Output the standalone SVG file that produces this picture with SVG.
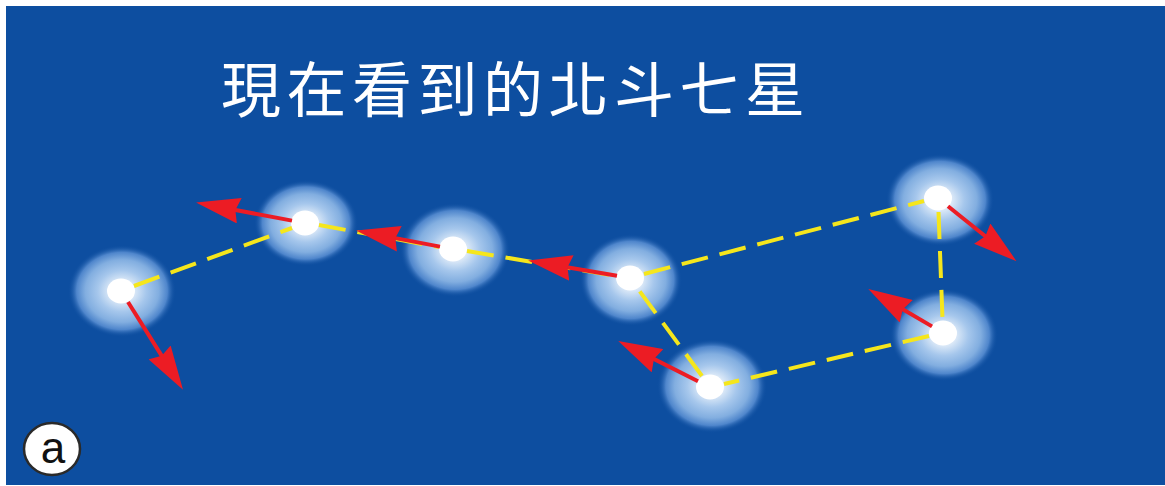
<svg xmlns="http://www.w3.org/2000/svg" width="1165" height="486" viewBox="0 0 1165 486">
  <style>
    .glow { fill: url(#starGlow); }
    .core { fill: #ffffff; }
    .link { fill: none; stroke: #f5e61c; stroke-width: 4; stroke-dasharray: 27 12; }
    .motion { fill: none; stroke: #ec1c24; stroke-width: 4; marker-end: url(#head); }
    .title { font-family: "Noto Sans CJK TC", "Noto Sans CJK SC", sans-serif; font-size: 60px; fill: #ffffff; letter-spacing: 5.5px; }
    .badge { fill: #ffffff; stroke: #2a2a2a; stroke-width: 2.5; }
    .badgeText { font-family: "Liberation Sans", Arial, sans-serif; font-size: 44px; fill: #111111; text-anchor: middle; }
  </style>
  <defs>
    <radialGradient id="starGlow" cx="0.5" cy="0.5" r="0.5">
      <stop offset="0" stop-color="#ffffff"/>
      <stop offset="0.2" stop-color="#e2edf9"/>
      <stop offset="0.45" stop-color="#a6c7ec"/>
      <stop offset="0.68" stop-color="#82aee0"/>
      <stop offset="0.84" stop-color="#4f86cc"/>
      <stop offset="1" stop-color="#0d4ea0" stop-opacity="0"/>
    </radialGradient>
    <marker id="head" markerUnits="userSpaceOnUse" markerWidth="44" markerHeight="26" viewBox="0 0 44 26" refX="12" refY="13" orient="auto">
      <path d="M0,0 L44,13 L0,26 L4,13 Z" fill="#ec1c24"/>
    </marker>
  </defs>

  <!-- night sky panel -->
  <rect x="0" y="0" width="1165" height="486" fill="#ffffff"/>
  <rect x="6" y="6" width="1159" height="479" fill="#0d4ea0"/>

  <text class="title" x="221" y="112">現在看到的北斗七星</text>

  <!-- the seven stars -->
  <g id="star1"><ellipse class="glow" cx="122" cy="291" rx="54" ry="46"/><ellipse class="core" cx="121" cy="291" rx="14" ry="12.5"/></g>
  <g id="star2"><ellipse class="glow" cx="306" cy="223" rx="52" ry="43"/><ellipse class="core" cx="305" cy="223" rx="14" ry="12.5"/></g>
  <g id="star3"><ellipse class="glow" cx="455" cy="250" rx="55" ry="47"/><ellipse class="core" cx="453" cy="249" rx="14" ry="12.5"/></g>
  <g id="star4"><ellipse class="glow" cx="631" cy="280" rx="51" ry="46"/><ellipse class="core" cx="630" cy="278" rx="14" ry="12.5"/></g>
  <g id="star5"><ellipse class="glow" cx="712" cy="386" rx="55" ry="47"/><ellipse class="core" cx="710" cy="387" rx="14" ry="12.5"/></g>
  <g id="star6"><ellipse class="glow" cx="944" cy="335" rx="54" ry="46"/><ellipse class="core" cx="943" cy="333" rx="14" ry="12.5"/></g>
  <g id="star7"><ellipse class="glow" cx="940" cy="200" rx="54" ry="46"/><ellipse class="core" cx="938" cy="198" rx="14" ry="12.5"/></g>

  <g id="connectors">
    <!-- constellation outline -->
    <line class="link" x1="134" y1="286" x2="292" y2="228"/>
    <line class="link" x1="319" y1="225" x2="439" y2="247"/>
    <line class="link" x1="467" y1="251" x2="616" y2="276"/>
    <line class="link" x1="644" y1="274" x2="924" y2="201"/>
    <line class="link" x1="938.5" y1="212" x2="942.5" y2="319"/>
    <line class="link" x1="929" y1="336" x2="724" y2="384"/>
    <line class="link" x1="702" y1="376" x2="638" y2="289"/>
    <!-- proper motion of each star -->
    <line class="motion" x1="128" y1="302" x2="166" y2="362.6"/>
    <line class="motion" x1="292" y1="220.6" x2="227.5" y2="208.5"/>
    <line class="motion" x1="440" y1="246.6" x2="387.5" y2="236.6"/>
    <line class="motion" x1="617" y1="275.8" x2="559.6" y2="266"/>
    <line class="motion" x1="698" y1="381.2" x2="646.8" y2="355.4"/>
    <line class="motion" x1="932" y1="326.4" x2="895.9" y2="305.2"/>
    <line class="motion" x1="948" y1="206.2" x2="991.6" y2="241.2"/>
  </g>

  <g id="label-a">
    <ellipse class="badge" cx="52" cy="449" rx="28" ry="26"/>
    <text class="badgeText" x="53" y="463">a</text>
  </g>
</svg>
